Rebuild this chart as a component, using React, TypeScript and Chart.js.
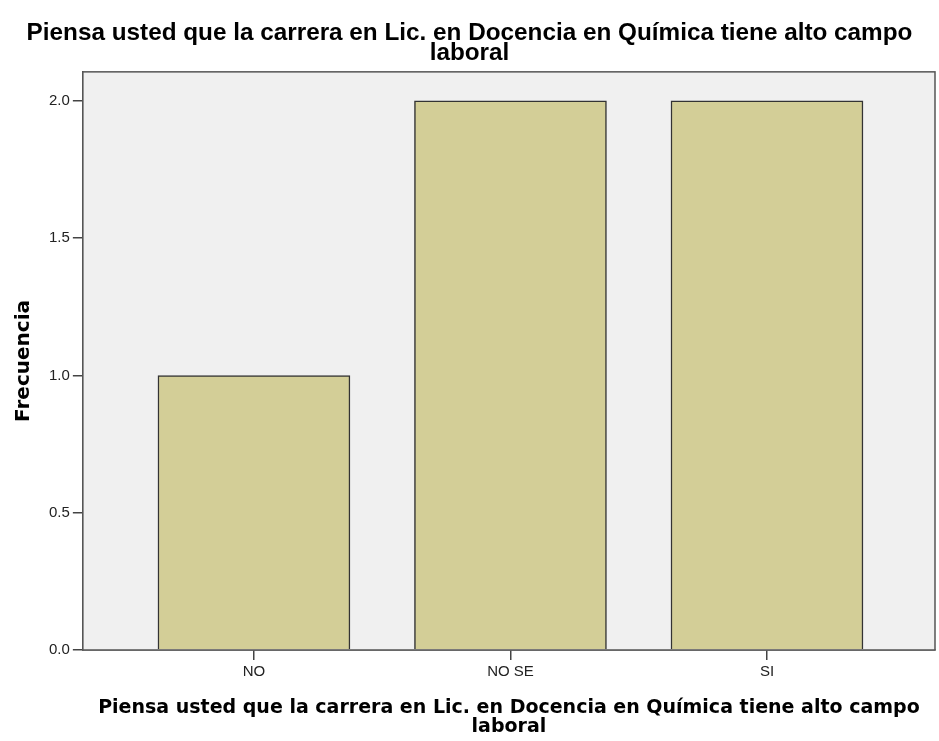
import React, { useEffect, useRef } from "react";
import { Chart, registerables } from "chart.js";

Chart.register(...registerables);

const categories = ["NO", "NO SE", "SI"];
const frequencies = [1, 2, 2];
const yTicks = [0, 0.5, 1.0, 1.5, 2.0];
const chartTitle = [
  "Piensa usted que la carrera en Lic. en Docencia en Química tiene alto campo",
  "laboral",
];
const xTitle = [
  "Piensa usted que la carrera en Lic. en Docencia en Química tiene alto campo",
  "laboral",
];
const yTitle = "Frecuencia";

const plotFrame = {
  id: "plotFrame",
  beforeDatasetsDraw(chart: any) {
    const { ctx, chartArea } = chart;
    ctx.save();
    ctx.fillStyle = "#f0f0f0";
    ctx.fillRect(chartArea.left, chartArea.top, chartArea.right - chartArea.left, chartArea.bottom - chartArea.top);
    ctx.restore();
  },
  afterDatasetsDraw(chart: any) {
    const { ctx, chartArea } = chart;
    ctx.save();
    ctx.strokeStyle = "#555";
    ctx.lineWidth = 1.5;
    ctx.strokeRect(chartArea.left, chartArea.top, chartArea.right - chartArea.left, chartArea.bottom - chartArea.top);
    ctx.restore();
  },
};

export default function App() {
  const ref = useRef<HTMLCanvasElement>(null);
  useEffect(() => {
    document.body.style.margin = "0";
    const chart = new Chart(ref.current!, {
      type: "bar",
      data: {
        datasets: [
          {
            data: frequencies.map((v, i) => ({ x: i, y: v })),
            backgroundColor: "#d3ce97",
            borderColor: "#333",
            borderWidth: 1.5,
            barThickness: 192,
          },
        ],
      },
      plugins: [plotFrame],
      options: {
        animation: false,
        responsive: false,
        layout: { padding: { left: 4, right: 4, top: 0, bottom: 4 } },
        plugins: {
          legend: { display: false },
          tooltip: { enabled: false },
          title: {
            display: true,
            text: chartTitle,
            color: "#000",
            font: { family: "Arial, 'Liberation Sans', sans-serif", size: 24.3, weight: "bold", lineHeight: 0.82 },
            padding: { top: 23, bottom: 9 },
          },
        },
        scales: {
          x: {
            type: "linear",
            offset: false,
            min: -0.667,
            max: 2.655,
            afterBuildTicks: (scale: any) => {
              scale.ticks = categories.map((_, i) => ({ value: i }));
            },
            ticks: {
              callback: (v: any) => categories[v as number] ?? "",
              color: "#222",
              font: { family: "Arial, 'Liberation Sans', sans-serif", size: 15 },
              padding: 3,
              maxRotation: 0,
            },
            grid: { offset: false, drawOnChartArea: false, drawTicks: true, tickLength: 10, color: "#444", lineWidth: 1.5 },
            border: { display: true, color: "#444", width: 1.5 },
            title: {
              display: true,
              text: xTitle,
              color: "#000",
              font: { family: "'DejaVu Sans', sans-serif", size: 19, weight: "bold", lineHeight: 1.0 },
              padding: { top: 15, bottom: 0 },
            },
          },
          y: {
            min: 0,
            max: 2.106,
            afterBuildTicks: (scale: any) => {
              scale.ticks = yTicks.map((v) => ({ value: v }));
            },
            ticks: {
              callback: (v: any) => Number(v).toFixed(1),
              color: "#222",
              font: { family: "Arial, 'Liberation Sans', sans-serif", size: 15 },
              padding: 3,
            },
            grid: { drawOnChartArea: false, drawTicks: true, tickLength: 10, color: "#444", lineWidth: 1.5 },
            border: { display: true, color: "#444", width: 1.5 },
            title: {
              display: true,
              text: yTitle,
              color: "#000",
              font: { family: "'DejaVu Sans', sans-serif", size: 20, weight: "bold" },
              padding: { top: 8, bottom: 10 },
            },
          },
        },
      },
    });
    return () => chart.destroy();
  }, []);
  return (
    <div style={{ width: 939, height: 741, background: "#fff" }}>
      <canvas ref={ref} width={939} height={741} style={{ display: "block" }} />
    </div>
  );
}
